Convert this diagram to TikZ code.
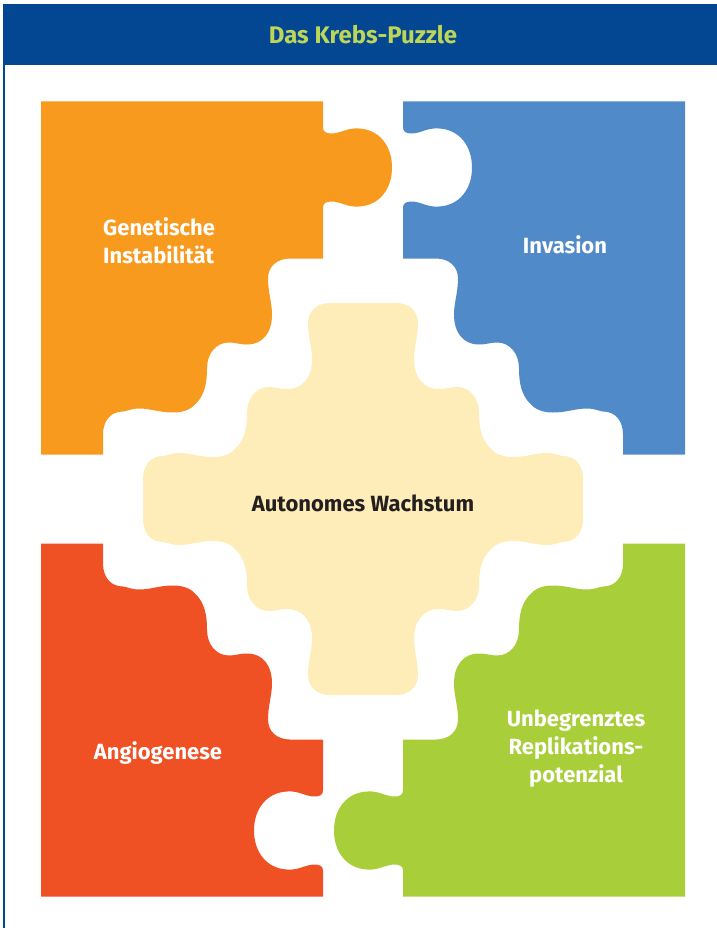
\documentclass[tikz,border=0pt]{standalone}
\usepackage{fontspec}
\setmainfont{Fira Sans}

\definecolor{hdrblue}{RGB}{3,71,146}
\definecolor{titlegreen}{RGB}{190,214,88}
\definecolor{orangep}{RGB}{248,154,30}
\definecolor{bluep}{RGB}{81,138,200}
\definecolor{redp}{RGB}{239,80,36}
\definecolor{greenp}{RGB}{168,206,58}
\definecolor{creamp}{RGB}{254,237,184}
\definecolor{darktext}{RGB}{35,31,32}

% stepped edge of the middle piece, one quarter, from the top middle out to the side
\newcommand{\cutfwd}[2]{%
  -- (#1*-33,#2*-196)
  .. controls (#1*-46,#2*-196) and (#1*-55,#2*-188) .. (#1*-55,#2*-176)
  .. controls (#1*-55,#2*-162) and (#1*-51,#2*-152) .. (#1*-51,#2*-140)
  .. controls (#1*-51,#2*-122) and (#1*-60,#2*-110) .. (#1*-76,#2*-110)
  .. controls (#1*-84,#2*-110) and (#1*-87,#2*-112) .. (#1*-94,#2*-112)
  .. controls (#1*-107,#2*-112) and (#1*-116,#2*-101) .. (#1*-116,#2*-86)
  .. controls (#1*-116,#2*-70) and (#1*-119,#2*-60) .. (#1*-126,#2*-52)
  .. controls (#1*-131,#2*-46) and (#1*-138,#2*-42) .. (#1*-150,#2*-42)
  .. controls (#1*-164,#2*-42) and (#1*-172,#2*-46) .. (#1*-184,#2*-46)
  .. controls (#1*-192,#2*-46) and (#1*-197,#2*-43) .. (#1*-200,#2*-43)
  .. controls (#1*-212,#2*-43) and (#1*-220,#2*-34) .. (#1*-220,#2*-20)
  -- (#1*-220,0)}
% the same quarter, walked the other way
\newcommand{\cutrev}[2]{%
  -- (#1*-220,#2*-20)
  .. controls (#1*-220,#2*-34) and (#1*-212,#2*-43) .. (#1*-200,#2*-43)
  .. controls (#1*-197,#2*-43) and (#1*-192,#2*-46) .. (#1*-184,#2*-46)
  .. controls (#1*-172,#2*-46) and (#1*-164,#2*-42) .. (#1*-150,#2*-42)
  .. controls (#1*-138,#2*-42) and (#1*-131,#2*-46) .. (#1*-126,#2*-52)
  .. controls (#1*-119,#2*-60) and (#1*-116,#2*-70) .. (#1*-116,#2*-86)
  .. controls (#1*-116,#2*-101) and (#1*-107,#2*-112) .. (#1*-94,#2*-112)
  .. controls (#1*-87,#2*-112) and (#1*-84,#2*-110) .. (#1*-76,#2*-110)
  .. controls (#1*-60,#2*-110) and (#1*-51,#2*-122) .. (#1*-51,#2*-140)
  .. controls (#1*-51,#2*-152) and (#1*-55,#2*-162) .. (#1*-55,#2*-176)
  .. controls (#1*-55,#2*-188) and (#1*-46,#2*-196) .. (#1*-33,#2*-196)
  -- (0,#2*-196)}
% knob on the cut between the two upper pieces
\newcommand{\tabcut}{%
  (0,-327) .. controls (0,-323) and (3,-321) .. (8,-321)
  .. controls (18,-321) and (24,-327) .. (36,-326)
  .. controls (56,-325) and (69,-309) .. (69,-287)
  .. controls (69,-265) and (56,-249) .. (36,-248)
  .. controls (24,-247) and (18,-253) .. (8,-253)
  .. controls (3,-253) and (0,-251) .. (0,-247)}

\begin{document}
\begin{tikzpicture}[x=1pt,y=-1pt,
    piecelabel/.style={text=white,font=\bfseries\fontsize{22}{28}\selectfont,inner sep=0pt},
    midlabel/.style={text=darktext,font=\bfseries\fontsize{22}{28}\selectfont,inner sep=0pt}]
  \useasboundingbox (0,0) rectangle (716,928);

  % frame and header
  \fill[hdrblue] (3.5,4.5) rectangle (720,65);
  \draw[hdrblue,line width=1.5pt] (4.2,930) -- (4.2,4.5) -- (720,4.5);
  \node[text=titlegreen,font=\bfseries\fontsize{24}{30}\selectfont,inner sep=0pt] (title) at (363,35) {Das Krebs-Puzzle};

  % corner pieces
  \begin{scope}[shift={(323,454.5)}]
    \fill[orangep] (-282,-353) -- (0,-353) -- \tabcut -- (0,-196) \cutfwd{1}{1} -- (-282,0) -- cycle;
  \end{scope}
  \begin{scope}[shift={(403,454.5)}]
    \fill[bluep] (282,-353) -- (0,-353) -- \tabcut -- (0,-196) \cutfwd{-1}{1} -- (282,0) -- cycle;
  \end{scope}
  \begin{scope}[shift={(323,543.5)},rotate=180]
    \fill[redp] (282,-353) -- (0,-353) -- \tabcut -- (0,-196) \cutfwd{-1}{1} -- (282,0) -- cycle;
  \end{scope}
  \begin{scope}[shift={(403,543.5)},rotate=180]
    \fill[greenp] (-282,-353) -- (0,-353) -- \tabcut -- (0,-196) \cutfwd{1}{1} -- (-282,0) -- cycle;
  \end{scope}

  % middle piece
  \begin{scope}[shift={(363,499)}]
    \fill[creamp] (0,-196) \cutfwd{1}{1} \cutrev{1}{-1} \cutfwd{-1}{-1} \cutrev{-1}{1} -- cycle;
  \end{scope}

  % labels
  \node[piecelabel,align=left,anchor=west] (genetic) at (103,241) {Genetische\\Instabilität};
  \node[piecelabel] (invasion) at (565,245) {Invasion};
  \node[midlabel] (growth) at (363,503) {Autonomes Wachstum};
  \node[piecelabel] (angio) at (158,753) {Angiogenese};
  \node[piecelabel,align=center] (replic) at (576,749) {Unbegrenztes\\Replikations-\\potenzial};
\end{tikzpicture}
\end{document}
